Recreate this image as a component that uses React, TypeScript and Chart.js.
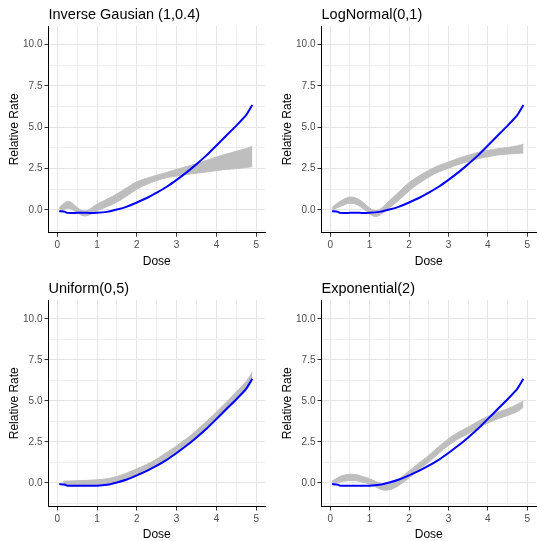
import React, { useEffect, useRef } from "react";
import { Chart, registerables } from "chart.js";
Chart.register(...registerables);
Chart.defaults.font.family = '"Liberation Sans", Arial, sans-serif';

// ---- data ----
const xTickValues = [0, 0.5, 1, 1.5, 2, 2.5, 3, 3.5, 4, 4.5, 5];
const yTickValues = [-1.25, 0, 1.25, 2.5, 3.75, 5, 6.25, 7.5, 8.75, 10];

const blueX = [0.05, 0.2, 0.25, 0.5, 0.75, 1.0, 1.25, 1.5, 1.75, 2.0, 2.25, 2.5, 2.75, 3.0, 3.25, 3.5, 3.75, 4.0, 4.25, 4.5, 4.75, 4.9];
const blueY = [-0.08, -0.12, -0.18, -0.18, -0.18, -0.18, -0.12, 0.02, 0.2, 0.45, 0.72, 1.04, 1.4, 1.82, 2.27, 2.77, 3.3, 3.9, 4.5, 5.1, 5.75, 6.35];

const invGaussX = [0.05, 0.15, 0.25, 0.35, 0.45, 0.55, 0.65, 0.75, 0.85, 1.0, 1.25, 1.5, 1.75, 2.0, 2.25, 2.5, 2.75, 3.0, 3.25, 3.5, 3.75, 4.0, 4.25, 4.5, 4.75, 4.9];
const invGaussLo = [-0.1, 0.0, 0.1, 0.05, -0.1, -0.25, -0.35, -0.35, -0.25, -0.05, 0.2, 0.47, 0.85, 1.25, 1.55, 1.78, 1.95, 2.05, 2.15, 2.22, 2.3, 2.38, 2.45, 2.5, 2.57, 2.62];
const invGaussHi = [0.15, 0.35, 0.52, 0.45, 0.25, 0.05, -0.05, -0.05, 0.1, 0.35, 0.65, 0.97, 1.35, 1.7, 1.92, 2.1, 2.27, 2.45, 2.62, 2.8, 3.0, 3.2, 3.38, 3.55, 3.72, 3.84];

const logNormX = [0.05, 0.15, 0.25, 0.35, 0.45, 0.55, 0.65, 0.75, 0.85, 1.0, 1.1, 1.2, 1.3, 1.5, 1.75, 2.0, 2.25, 2.5, 2.75, 3.0, 3.25, 3.5, 3.75, 4.0, 4.25, 4.5, 4.75, 4.9];
const logNormLo = [-0.05, 0.1, 0.2, 0.3, 0.38, 0.4, 0.35, 0.22, 0.05, -0.22, -0.38, -0.38, -0.25, 0.12, 0.6, 1.15, 1.6, 1.98, 2.3, 2.52, 2.75, 2.92, 3.1, 3.22, 3.32, 3.38, 3.42, 3.45];
const logNormHi = [0.15, 0.35, 0.52, 0.65, 0.75, 0.78, 0.72, 0.6, 0.42, 0.12, -0.02, -0.02, 0.1, 0.55, 1.1, 1.65, 2.05, 2.4, 2.68, 2.9, 3.12, 3.3, 3.48, 3.6, 3.7, 3.78, 3.88, 3.98];

const uniformX = [0.15, 0.5, 1.0, 1.25, 1.5, 1.75, 2.0, 2.25, 2.5, 2.75, 3.0, 3.25, 3.5, 3.75, 4.0, 4.25, 4.5, 4.75, 4.9];
const uniformLo = [-0.18, -0.18, -0.15, -0.08, 0.02, 0.2, 0.42, 0.7, 1.02, 1.4, 1.8, 2.25, 2.72, 3.25, 3.82, 4.42, 5.02, 5.65, 6.2];
const uniformHi = [0.1, 0.12, 0.18, 0.25, 0.38, 0.6, 0.85, 1.12, 1.45, 1.85, 2.25, 2.7, 3.2, 3.75, 4.32, 4.92, 5.55, 6.2, 6.75];

const expX = [0.05, 0.15, 0.25, 0.35, 0.5, 0.65, 0.8, 1.0, 1.15, 1.3, 1.45, 1.6, 1.75, 2.0, 2.25, 2.5, 2.75, 3.0, 3.25, 3.5, 3.75, 4.0, 4.25, 4.5, 4.75, 4.9];
const expLo = [-0.05, 0.0, 0.05, 0.1, 0.14, 0.13, 0.05, -0.08, -0.25, -0.42, -0.45, -0.35, -0.15, 0.3, 0.78, 1.26, 1.78, 2.28, 2.68, 3.0, 3.35, 3.65, 3.9, 4.11, 4.35, 4.62];
const expHi = [0.1, 0.25, 0.38, 0.46, 0.52, 0.5, 0.4, 0.25, 0.08, -0.05, -0.05, 0.05, 0.25, 0.72, 1.2, 1.67, 2.2, 2.69, 3.08, 3.4, 3.75, 4.05, 4.3, 4.52, 4.8, 5.0];

const titles = ["Inverse Gausian (1,0.4)", "LogNormal(0,1)", "Uniform(0,5)", "Exponential(2)"];

type PanelProps = {
  left: number; top: number; w: number; h: number;
  L: number; T: number; R: number; B: number;
  yMin: number; yMax: number;
  title: string; bx: number[]; lo: number[]; hi: number[];
};

const toPts = (xs: number[], ys: number[]) => xs.map((x, i) => ({ x, y: ys[i] }));
const GRAY = "#BEBEBE";
const MAJOR = "#E4E4E4";
const MINOR = "#EEEEEE";

function Panel(p: PanelProps) {
  const ref = useRef<HTMLCanvasElement>(null);
  useEffect(() => {
    const titlePlugin = {
      id: "panelTitle",
      afterDraw(chart: any) {
        const ctx = chart.ctx;
        ctx.save();
        ctx.font = '14.5px "Liberation Sans", Arial, sans-serif';
        ctx.fillStyle = "#000";
        ctx.textBaseline = "middle";
        ctx.textAlign = "left";
        ctx.fillText(p.title, chart.chartArea.left, p.T - 11);
        ctx.restore();
      },
    };
    const isXMajor = (v: number) => Math.abs(v - Math.round(v)) < 1e-6;
    const isYMajor = (v: number) => Math.abs(v / 2.5 - Math.round(v / 2.5)) < 1e-6;
    const chart = new Chart(ref.current!, {
      type: "line",
      data: {
        datasets: [
          {
            data: toPts(blueX, blueY),
            borderColor: "#0000FF",
            borderWidth: 2,
            pointRadius: 0,
            tension: 0.15,
            fill: false,
            order: 0,
          },
          {
            data: toPts(p.bx, p.lo),
            borderColor: GRAY,
            borderWidth: 1,
            pointRadius: 0,
            tension: 0.35,
            fill: false,
            order: 2,
          },
          {
            data: toPts(p.bx, p.hi),
            borderColor: GRAY,
            borderWidth: 1,
            backgroundColor: GRAY,
            pointRadius: 0,
            tension: 0.35,
            fill: "-1",
            order: 1,
          },
        ],
      },
      options: {
        animation: false,
        responsive: false,
        devicePixelRatio: 1,
        layout: { padding: { left: 0, top: p.T, right: p.w - p.R, bottom: 0 } },
        plugins: { legend: { display: false }, tooltip: { enabled: false }, title: { display: false } },
        scales: {
          x: {
            type: "linear",
            min: -0.22,
            max: 5.22,
            afterBuildTicks: (s: any) => { s.ticks = xTickValues.map((v) => ({ value: v })); },
            afterFit: (s: any) => { s.height = p.h - p.B; },
            ticks: {
              autoSkip: false,
              maxRotation: 0,
              padding: 3,
              color: "#4D4D4D",
              font: { size: 10 },
              callback: (v: any) => (isXMajor(Number(v)) ? String(Math.round(Number(v))) : ""),
            },
            grid: {
              color: (c: any) => (c.tick && isXMajor(c.tick.value) ? MAJOR : MINOR),
              lineWidth: 1,
              tickLength: 4,
              tickColor: (c: any) => (c.tick && isXMajor(c.tick.value) ? "#333333" : "rgba(0,0,0,0)"),
            },
            border: { display: true, color: "#000", width: 1 },
            title: { display: true, text: "Dose", color: "#000", font: { size: 12 }, padding: { top: 0, bottom: 3 } },
          },
          y: {
            type: "linear",
            min: p.yMin,
            max: p.yMax,
            afterBuildTicks: (s: any) => { s.ticks = yTickValues.map((v) => ({ value: v })); },
            afterFit: (s: any) => { s.width = p.L; },
            ticks: {
              autoSkip: false,
              padding: 2,
              color: "#4D4D4D",
              font: { size: 10 },
              callback: (v: any) => (isYMajor(Number(v)) ? Number(v).toFixed(1) : ""),
            },
            grid: {
              color: (c: any) => (c.tick && isYMajor(c.tick.value) ? MAJOR : MINOR),
              lineWidth: 1,
              tickLength: 4,
              tickColor: (c: any) => (c.tick && isYMajor(c.tick.value) ? "#333333" : "rgba(0,0,0,0)"),
            },
            border: { display: true, color: "#000", width: 1 },
            title: { display: true, text: "Relative Rate", color: "#000", font: { size: 12 }, padding: { top: 7, bottom: 0 } },
          },
        },
      },
      plugins: [titlePlugin],
    } as any);
    return () => chart.destroy();
  }, []);
  return (
    <canvas
      ref={ref}
      width={p.w}
      height={p.h}
      style={{ position: "absolute", left: p.left, top: p.top, width: p.w, height: p.h }}
    />
  );
}

export default function App() {
  const topRow = { T: 26, B: 232.7, yMin: -1.38, yMax: 11.13, top: 0, h: 272 };
  const botRow = { T: 27, B: 233.5, yMin: -1.45, yMax: 11.16, top: 273, h: 272 };
  return (
    <div style={{ position: "fixed", left: 0, top: 0, width: 537, height: 541, overflow: "hidden", background: "#fff" }}>
      <Panel left={0} w={268} L={48.5} R={265} {...topRow} title={titles[0]} bx={invGaussX} lo={invGaussLo} hi={invGaussHi} />
      <Panel left={272.8} w={264.2} L={48.5} R={263.2} {...topRow} title={titles[1]} bx={logNormX} lo={logNormLo} hi={logNormHi} />
      <Panel left={0} w={268} L={48.5} R={265} {...botRow} title={titles[2]} bx={uniformX} lo={uniformLo} hi={uniformHi} />
      <Panel left={272.8} w={264.2} L={48.5} R={263.2} {...botRow} title={titles[3]} bx={expX} lo={expLo} hi={expHi} />
    </div>
  );
}
